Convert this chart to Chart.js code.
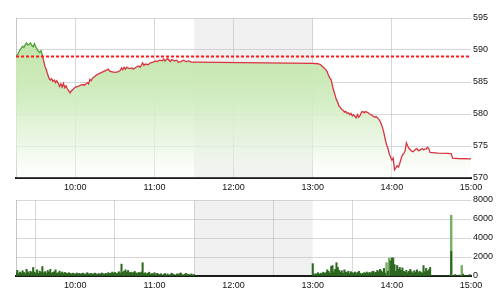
<!DOCTYPE html>
<html>
<head>
<meta charset="utf-8">
<script src="https://cdn.jsdelivr.net/npm/chart.js@4.4.1/dist/chart.umd.min.js"></script>
<style>
  html, body { margin: 0; padding: 0; background: #ffffff; }
  #wrap { position: relative; width: 500px; height: 300px; }
  #wrap canvas { position: absolute; left: 0; top: 0; }
</style>
</head>
<body>
<div id="wrap">
  <canvas id="price" width="500" height="300"></canvas>
  <canvas id="vol" width="500" height="300"></canvas>
</div>
<script>
// ---------- DATA ----------
const sessionStart = '09:15';
const sessionEnd = '15:00';
const lunchStart = '11:30';
const lunchEnd = '13:00';
const refPrice = 589;

const xTickLabels = ['10:00', '11:00', '12:00', '13:00', '14:00', '15:00'];
const priceTicks = [570, 575, 580, 585, 590, 595];
const volumeTicks = [0, 2000, 4000, 6000, 8000];

const priceTimes = [
  '09:15','09:16','09:17','09:18','09:19','09:20','09:21','09:22','09:23','09:24',
  '09:25','09:26','09:27','09:28','09:29','09:30','09:31','09:32','09:33','09:34',
  '09:35','09:36','09:37','09:38','09:39','09:40','09:41','09:42','09:43','09:44',
  '09:45','09:46','09:47','09:48','09:49','09:50','09:51','09:52','09:53','09:54',
  '09:55','09:56','09:57','09:58','09:59','10:00','10:02','10:04','10:06','10:07',
  '10:09','10:10','10:11','10:12','10:13','10:15','10:16','10:18','10:20','10:22',
  '10:24','10:25','10:26','10:28','10:30','10:32','10:34','10:35','10:36','10:37',
  '10:38','10:39','10:41','10:43','10:44','10:46','10:48','10:49','10:50','10:51',
  '10:52','10:53','10:55','10:57','10:59','11:01','11:02','11:04','11:06','11:07',
  '11:08','11:10','11:11','11:12','11:13','11:15','11:17','11:18','11:20','11:22',
  '11:24','11:26','11:28','11:30',
  '13:00','13:04','13:06','13:08','13:10','13:11','13:12','13:13','13:14','13:15',
  '13:16','13:17','13:18','13:19','13:20','13:21','13:22','13:23','13:24','13:25',
  '13:26','13:27','13:28','13:29','13:30','13:31','13:32','13:33','13:34','13:35',
  '13:36','13:37','13:38','13:39','13:40','13:41','13:42','13:43','13:44','13:45',
  '13:46','13:47','13:48','13:49','13:50','13:51','13:52','13:53','13:54','13:55',
  '13:56','13:57','13:58','13:59','14:00','14:01','14:02','14:03','14:04','14:05',
  '14:06','14:07','14:08','14:09','14:10','14:11','14:12','14:13','14:14','14:15',
  '14:16','14:17','14:18','14:19','14:20','14:21','14:22','14:23','14:24','14:25',
  '14:26','14:27','14:28','14:29','14:35','14:42','14:45','14:46','14:50','15:00'
];
const priceValues = [
  588.9,589.2,589.6,590.0,590.3,590.6,590.4,590.8,591.1,590.8,
  590.9,591.1,590.7,590.5,591.0,590.5,590.1,589.8,589.6,589.9,
  589.2,588.3,587.4,586.9,586.2,585.6,585.3,585.5,585.1,585.3,
  584.9,585.2,584.8,584.3,584.7,584.2,584.8,584.1,584.4,583.9,
  583.6,583.3,583.6,583.8,584.0,584.2,584.3,584.5,584.6,584.5,
  584.9,584.7,585.4,585.2,585.6,585.9,586.1,586.3,586.5,586.7,
  586.9,587.0,586.7,586.6,586.5,586.6,586.8,587.2,586.9,587.3,
  587.0,587.3,587.1,587.2,587.0,587.3,587.5,587.3,587.6,588.0,
  587.6,587.8,587.7,588.0,588.1,588.3,588.2,588.4,588.3,588.6,
  588.3,588.7,588.4,588.2,588.5,588.3,588.4,588.1,588.2,588.4,
  588.2,588.3,588.1,588.1,
  587.9,587.85,587.7,587.3,586.9,586.6,586.0,585.6,585.3,584.4,
  583.6,582.9,582.2,581.8,581.2,581.0,580.7,580.6,580.3,580.4,
  580.1,580.2,579.9,580.1,579.7,579.9,579.6,579.4,579.9,579.5,
  579.8,580.3,580.4,580.2,580.4,580.3,580.2,580.0,579.9,579.8,
  579.6,579.5,579.6,579.4,579.2,578.9,578.4,577.8,577.0,576.0,
  575.2,574.6,573.8,573.3,572.8,573.1,571.3,571.6,571.9,571.7,
  572.3,573.0,573.6,573.8,574.2,575.5,575.0,574.6,574.4,574.2,
  574.1,574.3,574.5,574.6,574.3,574.3,574.5,574.6,574.4,574.5,
  574.5,574.8,574.6,574.0,573.9,573.85,573.8,573.1,573.05,573.0
];

// one value per minute from 09:15 to 11:30
const amVolumes = [
  350,600,250,420,300,550,380,260,700,450,
  320,500,380,900,420,300,650,280,520,380,
  1000,350,460,300,580,420,700,300,380,450,
  650,280,350,520,300,420,260,380,300,240,
  350,280,200,300,250,180,320,220,280,200,
  260,300,180,220,350,240,200,280,160,250,
  300,220,180,260,200,320,240,180,280,220,
  350,260,300,420,280,380,250,300,450,320,
  1250,380,500,650,420,580,350,400,300,380,
  480,320,260,380,300,420,1400,280,350,220,
  300,400,180,260,220,350,150,280,200,160,
  240,0,180,260,120,220,0,160,300,200,
  140,0,220,180,250,320,160,0,200,280,
  140,180,0,220,120,160
];
// one value per minute from 13:00 to 15:00
const pmVolumes = [
  1300,150,250,200,350,180,300,250,400,280,
  350,650,500,300,1000,1100,450,700,1400,900,
  600,400,550,300,650,420,380,500,280,450,
  350,300,420,250,380,500,300,200,280,350,
  300,420,250,380,300,450,500,350,400,600,
  450,700,550,400,800,300,0,500,0,1600,
  1900,1900,1200,500,1100,700,900,600,850,500,
  400,600,350,500,700,450,300,550,400,650,
  350,500,400,300,1100,450,800,500,650,900,
  0,0,0,0,0,0,0,0,0,0,
  0,0,0,0,0,2600,0,0,150,0,
  0,100,0,0,200,0,0,0,0,150,
  0
];
const lightVolTimes = ['13:56', '13:58', '14:45', '14:53'];
const lightVolValues = [1400, 1900, 6400, 1100];

// ---------- HELPERS ----------
const toMin = s => { const p = s.split(':').map(Number); return p[0] * 60 + p[1]; };
const fmt = v => { const h = Math.floor(v / 60), m = v % 60; return h + ':' + String(m).padStart(2, '0'); };
const xMin = toMin(sessionStart), xMax = toMin(sessionEnd);

const FONT = { family: "'Liberation Sans', Arial, sans-serif", size: 9 };
const TXT = '#111111';
const GRID = 'rgba(190,190,190,0.6)';

const bandPlugin = {
  id: 'band',
  beforeDraw(chart) {
    const { ctx, chartArea, scales } = chart;
    if (!chartArea) return;
    const x1 = scales.x.getPixelForValue(toMin(lunchStart));
    const x2 = scales.x.getPixelForValue(toMin(lunchEnd));
    ctx.save();
    ctx.fillStyle = '#f0f0f0';
    ctx.fillRect(x1, chartArea.top, x2 - x1, chartArea.bottom - chartArea.top);
    ctx.strokeStyle = '#c4c4c4';
    ctx.lineWidth = 1;
    ctx.beginPath();
    ctx.moveTo(chartArea.left + 0.5, chartArea.top);
    ctx.lineTo(chartArea.left + 0.5, chartArea.bottom);
    ctx.stroke();
    ctx.restore();
  }
};

function xScale(height, z) {
  return {
    type: 'linear', min: xMin, max: xMax, offset: false, z: z,
    afterBuildTicks: s => { s.ticks = xTickLabels.map(t => ({ value: toMin(t) })); },
    afterFit: s => { s.height = height; },
    ticks: { color: TXT, font: FONT, padding: 4, maxRotation: 0, autoSkip: false, callback: v => fmt(v) },
    grid: { drawTicks: false, color: c => (c.tick && c.tick.value === xMax) ? 'rgba(0,0,0,0)' : GRID },
    border: { display: true, color: '#1a1a1a', width: 2 }
  };
}
function yScale(min, max, ticks, z) {
  return {
    position: 'right', min: min, max: max, z: z,
    afterBuildTicks: s => { s.ticks = ticks.map(v => ({ value: v })); },
    afterFit: s => { s.width = 29; },
    ticks: { color: TXT, font: FONT, padding: 2, autoSkip: false, callback: v => String(v) },
    grid: { drawTicks: false, color: GRID },
    border: { display: false }
  };
}

// ---------- PRICE CHART ----------
const pricePoints = priceTimes.map((t, i) => ({ x: toMin(t), y: priceValues[i] }));
new Chart(document.getElementById('price'), {
  type: 'line',
  data: {
    datasets: [
      {
        data: [{ x: xMin, y: refPrice }, { x: xMax, y: refPrice }],
        borderColor: '#ff1a1a', borderWidth: 2, borderDash: [3, 2],
        pointRadius: 0, fill: false
      },
      {
        data: pricePoints,
        borderWidth: 1.3, pointRadius: 0, tension: 0, fill: 'start',
        borderColor: ctx => {
          const { chart } = ctx; const a = chart.chartArea;
          if (!a) return '#d8333f';
          const yr = chart.scales.y.getPixelForValue(refPrice);
          const s = Math.min(1, Math.max(0, (yr - a.top) / (a.bottom - a.top)));
          const g = chart.ctx.createLinearGradient(0, a.top, 0, a.bottom);
          g.addColorStop(0, '#4e9e35'); g.addColorStop(s, '#4e9e35');
          g.addColorStop(s, '#d8333f'); g.addColorStop(1, '#d8333f');
          return g;
        },
        backgroundColor: ctx => {
          const { chart } = ctx; const a = chart.chartArea;
          if (!a) return 'rgb(195,229,172)';
          const g = chart.ctx.createLinearGradient(0, a.top, 0, a.bottom);
          g.addColorStop(0, 'rgba(186,225,160,1)');
          g.addColorStop(0.5, 'rgba(208,236,190,0.95)');
          g.addColorStop(0.8, 'rgba(230,244,222,0.7)');
          g.addColorStop(1, 'rgba(248,252,245,0.2)');
          return g;
        }
      }
    ]
  },
  options: {
    responsive: false, animation: false,
    layout: { padding: { left: 16, top: 18, right: 0, bottom: 105 } },
    plugins: { legend: { display: false }, tooltip: { enabled: false } },
    scales: { x: xScale(17, 1), y: yScale(570, 595, priceTicks, 1) }
  },
  plugins: [bandPlugin]
});

// ---------- VOLUME CHART ----------
const amVolPoints = amVolumes.map((v, i) => ({ x: toMin(sessionStart) + i, y: v }));
const pmVolPoints = pmVolumes.map((v, i) => ({ x: toMin(lunchEnd) + i, y: v }));
const lightPoints = lightVolTimes.map((t, i) => ({ x: toMin(t), y: lightVolValues[i] }));
new Chart(document.getElementById('vol'), {
  type: 'bar',
  data: {
    datasets: [
      { data: amVolPoints.concat(pmVolPoints), backgroundColor: '#2c6820', barThickness: 1.4, grouped: false, order: 0 },
      { data: lightPoints, backgroundColor: '#7aaf68', barThickness: 1.8, grouped: false, order: 1 }
    ]
  },
  options: {
    responsive: false, animation: false,
    layout: { padding: { left: 16, top: 200, right: 0, bottom: 0 } },
    plugins: { legend: { display: false }, tooltip: { enabled: false } },
    scales: { x: xScale(24, 0), y: yScale(0, 8000, volumeTicks, 0) }
  },
  plugins: [bandPlugin]
});
</script>
</body>
</html>
